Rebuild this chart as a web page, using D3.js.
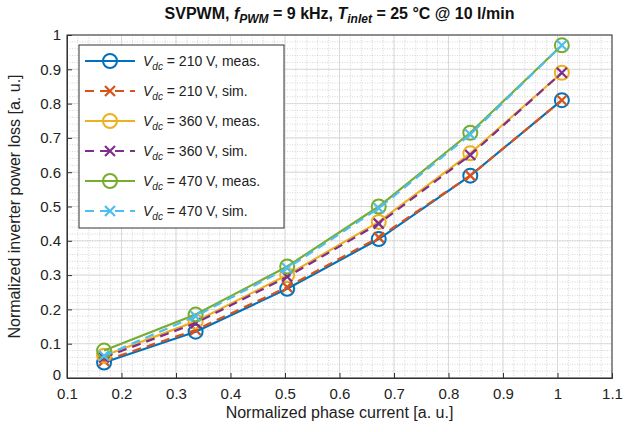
<!DOCTYPE html>
<html><head><meta charset="UTF-8">
<script src="https://d3js.org/d3.v7.min.js"></script>
<style>body{margin:0;background:#fff;font-family:Arial,'Liberation Sans',sans-serif}</style>
</head><body><svg id="c" width="629" height="432"></svg>
<script>
const current = [0.168, 0.336, 0.504, 0.672, 0.84, 1.008];
const meas210 = [0.045, 0.135, 0.26, 0.405, 0.59, 0.81];
const sim210  = [0.05, 0.14, 0.265, 0.41, 0.59, 0.81];
const meas360 = [0.065, 0.165, 0.30, 0.455, 0.655, 0.89];
const sim360  = [0.06, 0.16, 0.295, 0.45, 0.65, 0.89];
const meas470 = [0.08, 0.185, 0.325, 0.50, 0.715, 0.97];
const sim470  = [0.065, 0.18, 0.32, 0.495, 0.71, 0.97];
const xTicks = [0.1,0.2,0.3,0.4,0.5,0.6,0.7,0.8,0.9,1,1.1];
const yTicks = [0,0.1,0.2,0.3,0.4,0.5,0.6,0.7,0.8,0.9,1];

const series = [
  {v:210, kind:'meas', vals:meas210, color:'#0072BD'},
  {v:210, kind:'sim',  vals:sim210,  color:'#D95319'},
  {v:360, kind:'meas', vals:meas360, color:'#EDB120'},
  {v:360, kind:'sim',  vals:sim360,  color:'#7E2F8E'},
  {v:470, kind:'meas', vals:meas470, color:'#77AC30'},
  {v:470, kind:'sim',  vals:sim470,  color:'#4DBEEE'}
];

const L=67, T=35, R=612, B=378;
const svg = d3.select('#c');
const x = d3.scaleLinear().domain([0.1,1.1]).range([L,R]);
const y = d3.scaleLinear().domain([0,1]).range([B,T]);

// minor grid
const g = svg.append('g');
d3.range(0.1,1.1001,0.02).forEach(v=>g.append('line').attr('x1',x(v)).attr('x2',x(v)).attr('y1',T).attr('y2',B)
  .attr('stroke','#bbb').attr('stroke-width',0.6).attr('stroke-dasharray','1,1.5'));
d3.range(0,1.0001,0.02).forEach(v=>g.append('line').attr('y1',y(v)).attr('y2',y(v)).attr('x1',L).attr('x2',R)
  .attr('stroke','#bbb').attr('stroke-width',0.6).attr('stroke-dasharray','1,1.5'));
xTicks.forEach(v=>g.append('line').attr('x1',x(v)).attr('x2',x(v)).attr('y1',T).attr('y2',B).attr('stroke','#d4d4d4').attr('stroke-width',0.8));
yTicks.forEach(v=>g.append('line').attr('y1',y(v)).attr('y2',y(v)).attr('x1',L).attr('x2',R).attr('stroke','#d4d4d4').attr('stroke-width',0.8));

// axes
const ax = svg.append('g').attr('transform',`translate(0,${B})`)
  .call(d3.axisBottom(x).tickValues(xTicks).tickFormat(d3.format('~g')).tickSize(-5).tickPadding(10));
const ay = svg.append('g').attr('transform',`translate(${L},0)`)
  .call(d3.axisLeft(y).tickValues(yTicks).tickFormat(d3.format('~g')).tickSize(-5).tickPadding(6));
[ax,ay].forEach(a=>{a.selectAll('text').attr('font-size',15).attr('fill','#222').attr('font-family','Arial,Liberation Sans');
  a.selectAll('line,path').attr('stroke','#333');});
ay.selectAll('.tick text').filter(d=>d===0).attr('dy','0.1em');
svg.append('rect').attr('x',L).attr('y',T).attr('width',R-L).attr('height',B-T).attr('fill','none').attr('stroke','#333');

// lines and markers
const line = d3.line().x((d,i)=>x(current[i])).y(d=>y(d));
function marker(sel, s, cx, cy){
  if(s.kind==='meas') sel.append('circle').attr('cx',cx).attr('cy',cy).attr('r',7).attr('fill','none').attr('stroke',s.color).attr('stroke-width',2);
  else sel.append('path').attr('d',`M${cx-5},${cy-5}L${cx+5},${cy+5}M${cx-5},${cy+5}L${cx+5},${cy-5}`).attr('stroke',s.color).attr('stroke-width',2.2);
}
series.forEach(s=>{
  svg.append('path').datum(s.vals).attr('d',line).attr('fill','none').attr('stroke',s.color).attr('stroke-width',2.2)
    .attr('stroke-dasharray',s.kind==='sim'?'9,6':null);
  s.vals.forEach((d,i)=>marker(svg,s,x(current[i]),y(d)));
});

// legend
const lg = svg.append('g');
lg.append('rect').attr('x',79).attr('y',45).attr('width',205).attr('height',183).attr('fill','#fff').attr('stroke','#333');
series.forEach((s,i)=>{
  const yy = 61+i*30;
  lg.append('line').attr('x1',85).attr('x2',135).attr('y1',yy).attr('y2',yy).attr('stroke',s.color).attr('stroke-width',2.2)
    .attr('stroke-dasharray',s.kind==='sim'?'9,6':null);
  marker(lg,s,110,yy);
  const t = lg.append('text').attr('x',143).attr('y',yy+5).attr('font-size',14).attr('fill','#222');
  t.append('tspan').attr('font-style','italic').text('V');
  t.append('tspan').attr('font-style','italic').attr('font-size',10).attr('dy',4).text('dc');
  t.append('tspan').attr('dy',-4).text(` = ${s.v} V, ${s.kind}.`);
});

// title and labels
const tt = svg.append('text').attr('x',(L+R)/2).attr('y',19).attr('text-anchor','middle').attr('font-size',16).attr('font-weight','bold').attr('fill','#111');
tt.append('tspan').text('SVPWM, ');
tt.append('tspan').attr('font-style','italic').text('f');
tt.append('tspan').attr('font-style','italic').attr('font-size',12).attr('dy',4).text('PWM');
tt.append('tspan').attr('dy',-4).text(' = 9 kHz, ');
tt.append('tspan').attr('font-style','italic').text('T');
tt.append('tspan').attr('font-style','italic').attr('font-size',12).attr('dy',4).text('inlet');
tt.append('tspan').attr('dy',-4).text(' = 25 °C @ 10 l/min');
svg.append('text').attr('x',(L+R)/2).attr('y',418).attr('text-anchor','middle').attr('font-size',16).attr('fill','#222').text('Normalized phase current [a. u.]');
svg.append('text').attr('transform',`translate(20,${(T+B)/2}) rotate(-90)`).attr('text-anchor','middle').attr('font-size',16).attr('fill','#222').text('Normalized inverter power loss [a. u.]');
</script></body></html>
